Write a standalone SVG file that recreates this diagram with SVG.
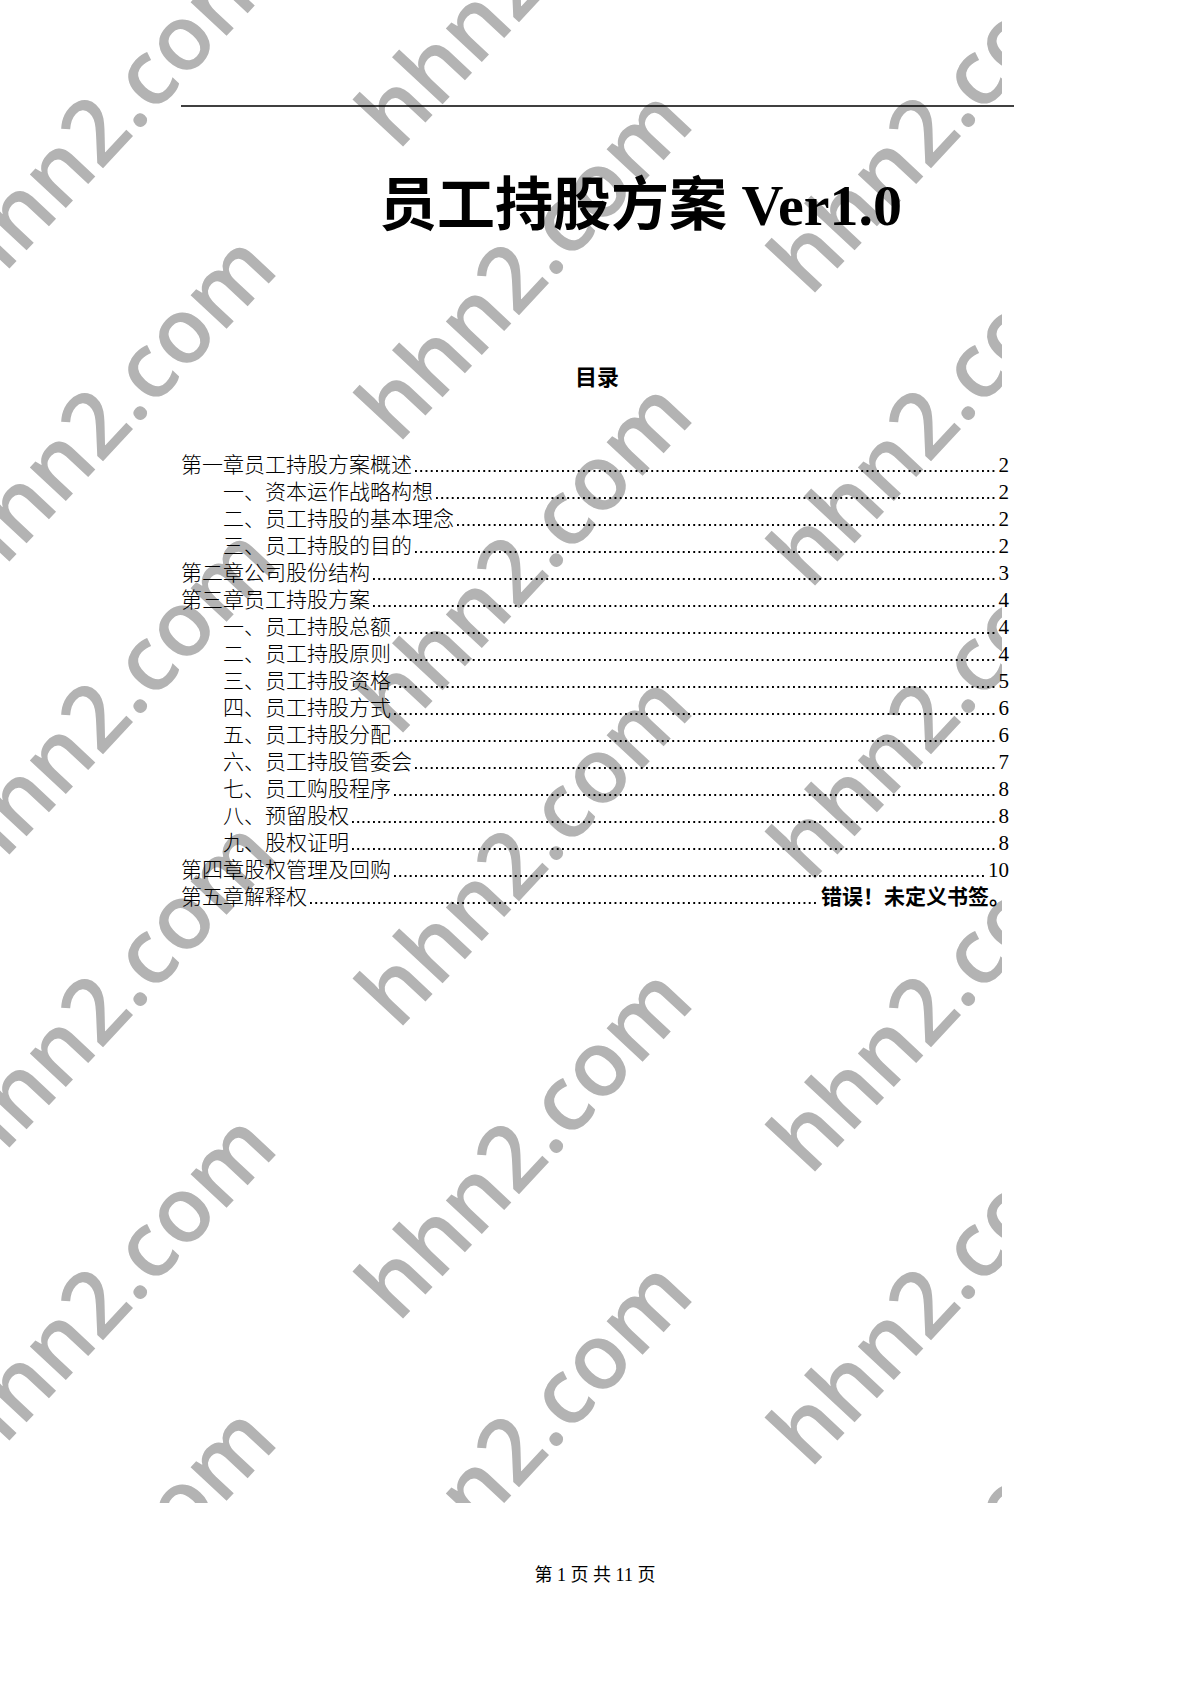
<svg xmlns="http://www.w3.org/2000/svg" width="1191" height="1684" viewBox="0 0 1191 1684">
<style>
.wm{font-family:"Open Sans","DejaVu Sans",sans-serif;font-weight:600;font-size:91px;fill:#b3b3b3}
.t{font-family:"Liberation Serif","Noto Sans CJK SC",serif;font-size:21px;font-weight:300;fill:#000}
.n{font-family:"Liberation Serif",serif;font-size:21px;fill:#000;text-anchor:end}
.err{font-family:"Noto Sans CJK SC",sans-serif;font-weight:bold;font-size:21px;fill:#000;text-anchor:end}
.ld{stroke:#000;stroke-width:1.9;stroke-dasharray:1.9 3.35;fill:none}
</style>
<defs>
<clipPath id="wmclip"><rect x="0" y="0" width="1002" height="1503"/></clipPath>
</defs>
<rect x="0" y="0" width="1191" height="1684" fill="#fff"/>
<g id="watermark" clip-path="url(#wmclip)">
<text class="wm" transform="translate(-18,298) rotate(-47)">hhn2.com</text>
<text class="wm" transform="translate(-18,591) rotate(-47)">hhn2.com</text>
<text class="wm" transform="translate(-18,884) rotate(-47)">hhn2.com</text>
<text class="wm" transform="translate(-18,1177) rotate(-47)">hhn2.com</text>
<text class="wm" transform="translate(-18,1470) rotate(-47)">hhn2.com</text>
<text class="wm" transform="translate(-18,1763) rotate(-47)">hhn2.com</text>
<text class="wm" transform="translate(398,152) rotate(-47)">hhn2.com</text>
<text class="wm" transform="translate(398,445) rotate(-47)">hhn2.com</text>
<text class="wm" transform="translate(398,738) rotate(-47)">hhn2.com</text>
<text class="wm" transform="translate(398,1031) rotate(-47)">hhn2.com</text>
<text class="wm" transform="translate(398,1324) rotate(-47)">hhn2.com</text>
<text class="wm" transform="translate(398,1617) rotate(-47)">hhn2.com</text>
<text class="wm" transform="translate(810,5) rotate(-47)">hhn2.com</text>
<text class="wm" transform="translate(810,298) rotate(-47)">hhn2.com</text>
<text class="wm" transform="translate(810,591) rotate(-47)">hhn2.com</text>
<text class="wm" transform="translate(810,884) rotate(-47)">hhn2.com</text>
<text class="wm" transform="translate(810,1177) rotate(-47)">hhn2.com</text>
<text class="wm" transform="translate(810,1470) rotate(-47)">hhn2.com</text>
<text class="wm" transform="translate(810,1763) rotate(-47)">hhn2.com</text>
</g>
<g id="header">
<line x1="181" y1="106" x2="1014" y2="106" stroke="#000" stroke-width="1.4"/>
</g>
<g id="title">
<text x="379" y="225" font-family="Liberation Serif, Noto Sans CJK SC, serif" font-weight="bold" font-size="58">员工持股方案 Ver1.0</text>
</g>
<g id="toc-heading">
<text x="597" y="385" text-anchor="middle" font-family="Noto Sans CJK SC, sans-serif" font-weight="bold" font-size="22">目录</text>
</g>
<g id="toc">
<g id="row1"><text class="t" x="181" y="472">第一章员工持股方案概述</text><line class="ld" x1="415" y1="471" x2="996" y2="471"/><text class="n" x="1009" y="472">2</text></g>
<g id="row2"><text class="t" x="223" y="499">一、资本运作战略构想</text><line class="ld" x1="436" y1="498" x2="996" y2="498"/><text class="n" x="1009" y="499">2</text></g>
<g id="row3"><text class="t" x="223" y="526">二、员工持股的基本理念</text><line class="ld" x1="457" y1="525" x2="996" y2="525"/><text class="n" x="1009" y="526">2</text></g>
<g id="row4"><text class="t" x="223" y="553">三、员工持股的目的</text><line class="ld" x1="415" y1="552" x2="996" y2="552"/><text class="n" x="1009" y="553">2</text></g>
<g id="row5"><text class="t" x="181" y="580">第二章公司股份结构</text><line class="ld" x1="373" y1="579" x2="996" y2="579"/><text class="n" x="1009" y="580">3</text></g>
<g id="row6"><text class="t" x="181" y="607">第三章员工持股方案</text><line class="ld" x1="373" y1="606" x2="996" y2="606"/><text class="n" x="1009" y="607">4</text></g>
<g id="row7"><text class="t" x="223" y="634">一、员工持股总额</text><line class="ld" x1="394" y1="633" x2="996" y2="633"/><text class="n" x="1009" y="634">4</text></g>
<g id="row8"><text class="t" x="223" y="661">二、员工持股原则</text><line class="ld" x1="394" y1="660" x2="996" y2="660"/><text class="n" x="1009" y="661">4</text></g>
<g id="row9"><text class="t" x="223" y="688">三、员工持股资格</text><line class="ld" x1="394" y1="687" x2="996" y2="687"/><text class="n" x="1009" y="688">5</text></g>
<g id="row10"><text class="t" x="223" y="715">四、员工持股方式</text><line class="ld" x1="394" y1="714" x2="996" y2="714"/><text class="n" x="1009" y="715">6</text></g>
<g id="row11"><text class="t" x="223" y="742">五、员工持股分配</text><line class="ld" x1="394" y1="741" x2="996" y2="741"/><text class="n" x="1009" y="742">6</text></g>
<g id="row12"><text class="t" x="223" y="769">六、员工持股管委会</text><line class="ld" x1="415" y1="768" x2="996" y2="768"/><text class="n" x="1009" y="769">7</text></g>
<g id="row13"><text class="t" x="223" y="796">七、员工购股程序</text><line class="ld" x1="394" y1="795" x2="996" y2="795"/><text class="n" x="1009" y="796">8</text></g>
<g id="row14"><text class="t" x="223" y="823">八、预留股权</text><line class="ld" x1="352" y1="822" x2="996" y2="822"/><text class="n" x="1009" y="823">8</text></g>
<g id="row15"><text class="t" x="223" y="850">九、股权证明</text><line class="ld" x1="352" y1="849" x2="996" y2="849"/><text class="n" x="1009" y="850">8</text></g>
<g id="row16"><text class="t" x="181" y="877">第四章股权管理及回购</text><line class="ld" x1="394" y1="876" x2="986" y2="876"/><text class="n" x="1009" y="877">10</text></g>
<g id="row17"><text class="t" x="181" y="904">第五章解释权</text><line class="ld" x1="310" y1="903" x2="819" y2="903"/><text class="err" x="1010" y="904">错误！未定义书签。</text></g>
</g>
<g id="footer">
<text x="595" y="1581" text-anchor="middle" font-family="Liberation Serif, Noto Sans CJK SC, serif" font-size="18">第 1 页 共 11 页</text>
</g>
</svg>
